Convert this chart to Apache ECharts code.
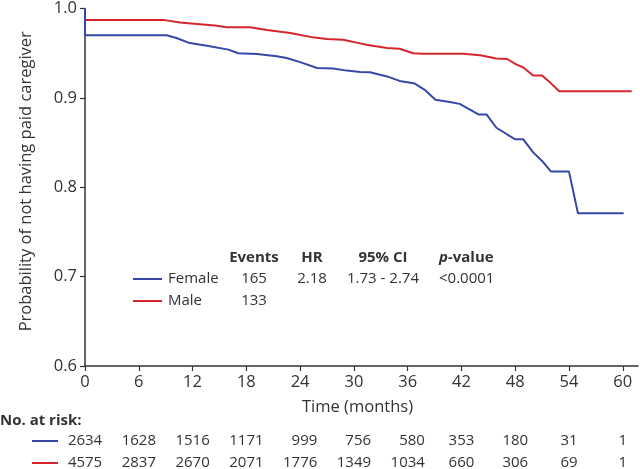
<!DOCTYPE html>
<html>
<head>
<meta charset="utf-8">
<script src="https://cdn.jsdelivr.net/npm/echarts@6/dist/echarts.min.js"></script>
<style>
html,body{margin:0;padding:0;background:#fff;}
#c{width:640px;height:469px;}
</style>
</head>
<body>
<div id="c"></div>
<script>
// ---- data ----
const femaleTimes = [0, 0, 9.1, 10.2, 11.7, 13.6, 16, 17.1, 19.2, 21.4, 22.5, 24, 25.9, 27.7, 29.2, 30.7, 31.8, 33.7, 35.1, 36.8, 37.9, 39.1, 40.7, 41.8, 43.9, 44.8, 45.9, 48, 48.9, 50, 51, 52, 54, 55, 60.1];
const femaleSurv  = [1, 0.970, 0.970, 0.967, 0.9613, 0.9584, 0.954, 0.950, 0.949, 0.9465, 0.9446, 0.940, 0.9335, 0.9328, 0.9305, 0.929, 0.9287, 0.924, 0.919, 0.916, 0.909, 0.898, 0.8955, 0.8933, 0.8815, 0.8815, 0.8666, 0.8536, 0.8536, 0.839, 0.8294, 0.8175, 0.8175, 0.771, 0.771];
const maleTimes = [0, 0, 8.9, 10.6, 12.8, 14.5, 15.8, 18.4, 20.3, 22.9, 25.4, 27, 28.8, 30.7, 31.4, 33.7, 35.1, 36.6, 37.6, 42.2, 44.1, 45.9, 47.1, 48, 48.9, 50, 51, 51.7, 52.9, 61];
const maleSurv  = [1, 0.987, 0.987, 0.9844, 0.9825, 0.981, 0.979, 0.979, 0.976, 0.9725, 0.9677, 0.966, 0.965, 0.961, 0.9595, 0.9557, 0.955, 0.950, 0.9495, 0.9495, 0.9476, 0.944, 0.9435, 0.938, 0.934, 0.925, 0.925, 0.919, 0.9075, 0.9075];
const xTicks = [0, 6, 12, 18, 24, 30, 36, 42, 48, 54, 60];
const riskFemale = [2634, 1628, 1516, 1171, 999, 756, 580, 353, 180, 31, 1];
const riskMale   = [4575, 2837, 2670, 2071, 1776, 1349, 1034, 660, 306, 69, 1];
const groups = ['Female', 'Male'];
const events = ['165', '133'];
const hrText = '2.18';
const ciText = '1.73 - 2.74';
const pText = '<0.0001';

const BLUE = '#3548a8';
const RED = '#d7262b';
const TXT = '#333333';
const FONT = '"Open Sans", "Noto Sans", sans-serif';
const AXFS = 16.5;

const zip = (a, b) => a.map((t, i) => [t, b[i]]);

const chart = echarts.init(document.getElementById('c'), null, {renderer: 'canvas'});

const option = {
  animation: false,
  backgroundColor: '#ffffff',
  textStyle: {fontFamily: FONT, color: TXT},
  grid: {left: 85, right: 2, top: 7, bottom: 103, containLabel: false},
  xAxis: {
    type: 'value', min: 0, max: 61.7, interval: 6,
    name: 'Time (months)', nameLocation: 'middle', nameGap: 33,
    nameTextStyle: {fontSize: AXFS, color: TXT, fontFamily: FONT, padding: [0, 8, 0, 0]},
    axisLine: {lineStyle: {color: '#333', width: 1.5}},
    axisTick: {show: true, length: 5, lineStyle: {color: '#333', width: 1.2}, customValues: xTicks},
    axisLabel: {fontSize: AXFS, color: TXT, margin: 8, fontFamily: FONT, customValues: xTicks,
      formatter: v => (xTicks.indexOf(v) >= 0 ? String(v) : '')},
    splitLine: {show: false}
  },
  yAxis: {
    type: 'value', min: 0.6, max: 1.0, interval: 0.1,
    name: 'Probability of not having paid caregiver', nameLocation: 'middle', nameGap: 50,
    nameTextStyle: {fontSize: AXFS, color: TXT, fontFamily: FONT, padding: [0, 0, 0, 12]},
    axisLine: {show: true, lineStyle: {color: '#333', width: 1.5}},
    axisTick: {show: true, length: 5, lineStyle: {color: '#333', width: 1.2}},
    axisLabel: {fontSize: AXFS, color: TXT, margin: 8, fontFamily: FONT, formatter: v => v.toFixed(1)},
    splitLine: {show: false}
  },
  series: [
    {type: 'line', name: 'Male', data: zip(maleTimes, maleSurv), showSymbol: false,
      lineStyle: {color: RED, width: 2}, itemStyle: {color: RED}, z: 2},
    {type: 'line', name: 'Female', data: zip(femaleTimes, femaleSurv), showSymbol: false,
      lineStyle: {color: BLUE, width: 2}, itemStyle: {color: BLUE}, z: 3}
  ]
};
chart.setOption(option);

// ---- annotations (legend table + numbers at risk) ----
const g = [];
const txt = (text, x, y, align, extra) => g.push(Object.assign({
  type: 'text', x: x, y: y,
  style: Object.assign({text: text, fill: TXT, font: '15px ' + FONT, align: align, verticalAlign: 'middle'}, extra || {})
}));
const seg = (x1, x2, y, color) => g.push({type: 'line', shape: {x1: x1, y1: y, x2: x2, y2: y}, style: {stroke: color, lineWidth: 2}});

// in-plot legend
const hdrY = 258, rowY = [279, 301];
txt('Events', 254, hdrY, 'center', {font: 'bold 15px ' + FONT});
txt('HR', 312, hdrY, 'center', {font: 'bold 15px ' + FONT});
txt('95% CI', 383, hdrY, 'center', {font: 'bold 15px ' + FONT});
g.push({type: 'text', x: 439, y: hdrY, style: {
  text: '{i|p}{b|-value}', align: 'left', verticalAlign: 'middle',
  rich: {i: {font: 'italic bold 15px ' + FONT, fill: TXT}, b: {font: 'bold 15px ' + FONT, fill: TXT}}
}});
const colors = [BLUE, RED];
groups.forEach((name, i) => {
  seg(133, 162, rowY[i], colors[i]);
  txt(name, 168, rowY[i], 'left');
  txt(events[i], 254, rowY[i], 'center');
});
txt(hrText, 312, rowY[0], 'center');
txt(ciText, 383, rowY[0], 'center');
txt(pText, 439, rowY[0], 'left');

// numbers at risk
txt('No. at risk:', 0, 421, 'left', {font: 'bold 15px ' + FONT});
const riskY = [441, 463];
[riskFemale, riskMale].forEach((arr, r) => {
  seg(32, 58, riskY[r], colors[r]);
});
xTicks.forEach((t, j) => {
  const px = chart.convertToPixel({xAxisIndex: 0}, t);
  const w = Math.max(String(riskFemale[j]).length, String(riskMale[j]).length);
  const right = px + w * 8.6 / 2;
  txt(String(riskFemale[j]), right, riskY[0], 'right');
  txt(String(riskMale[j]), right, riskY[1], 'right');
});

chart.setOption({graphic: {elements: g}});
</script>
</body>
</html>
